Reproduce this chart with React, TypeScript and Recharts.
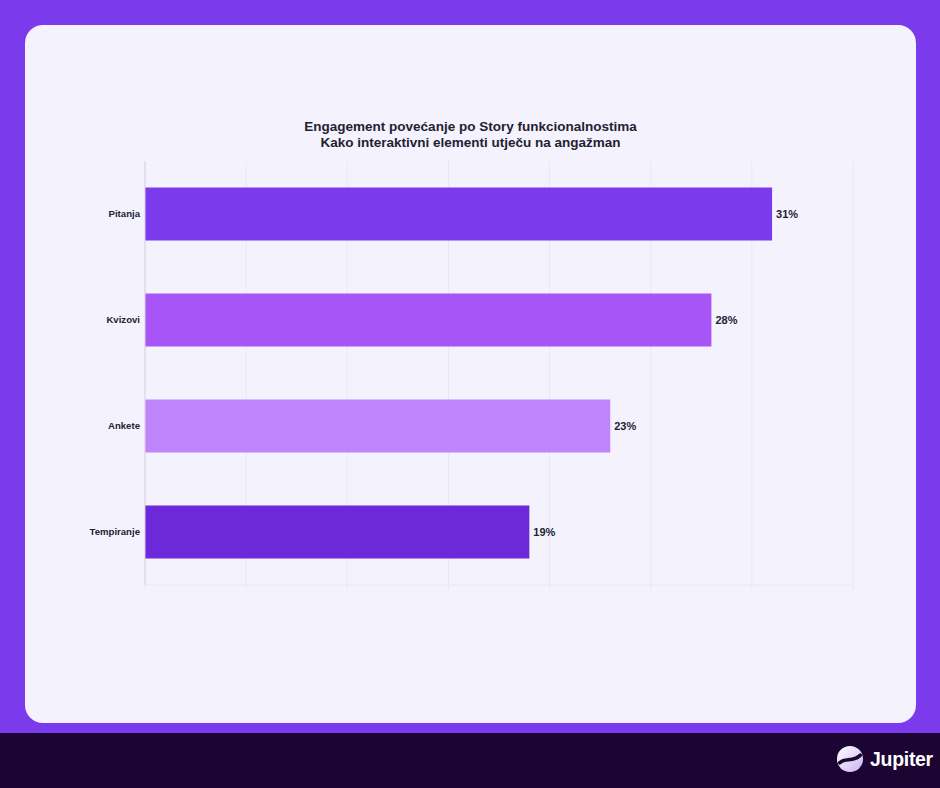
import React from 'react';
import { BarChart, Bar, XAxis, YAxis, CartesianGrid, Cell, LabelList } from 'recharts';

const features = ['Pitanja', 'Kvizovi', 'Ankete', 'Tempiranje'];
const increase = [31, 28, 23, 19];
const barColors = ['#7c3aed', '#a855f7', '#c084fc', '#6d28d9'];
const xTicks = [0, 5, 10, 15, 20, 25, 30, 35];

const data = features.map((name, i) => ({ name, value: increase[i] }));

const font = '"Liberation Sans", Arial, Helvetica, sans-serif';

function JupiterLogo() {
  return (
    <div style={{ position: 'absolute', left: 836, top: 745, display: 'flex', alignItems: 'center' }}>
      <svg width={28} height={28} viewBox="0 0 30 30">
        <defs>
          <linearGradient id="jupGrad" x1="0" y1="0" x2="1" y2="1">
            <stop offset="0%" stopColor="#ffffff" />
            <stop offset="100%" stopColor="#c9b3f5" />
          </linearGradient>
        </defs>
        <circle cx={15} cy={15} r={14} fill="url(#jupGrad)" />
        <path d="M4 19 C10 13, 18 19, 26 11" stroke="#1c0533" strokeWidth={4} fill="none" strokeLinecap="round" />
      </svg>
      <span style={{ marginLeft: 6, color: '#ffffff', fontFamily: font, fontWeight: 700, fontSize: 19.5, letterSpacing: -0.3 }}>
        Jupiter
      </span>
    </div>
  );
}

export default function App() {
  return (
    <div style={{ position: 'absolute', left: 0, top: 0, width: 940, height: 788, background: '#7c3aed', overflow: 'hidden', fontFamily: font }}>
      <div style={{ position: 'absolute', left: 0, top: 733, width: 940, height: 55, background: '#1c0533' }} />
      <JupiterLogo />
      <div style={{ position: 'absolute', left: 25, top: 25, width: 891, height: 698, background: '#f4f3fd', borderRadius: 18 }}>
        <div style={{ position: 'absolute', left: 0, top: 94, width: 891, textAlign: 'center', fontWeight: 700, fontSize: 13.5, lineHeight: '16px', color: '#1f2233' }}>
          <div>Engagement povećanje po Story funkcionalnostima</div>
          <div>Kako interaktivni elementi utječu na angažman</div>
        </div>
        <div style={{ position: 'absolute', left: 0, top: 0 }}>
          <BarChart
            width={891}
            height={698}
            data={data}
            layout="vertical"
            margin={{ top: 136, right: 63, left: 0, bottom: 108 }}
            barCategoryGap="25%"
          >
            <CartesianGrid horizontal={false} stroke="#e9e7f3" />
            <XAxis
              type="number"
              domain={[0, 35]}
              ticks={xTicks}
              height={30}
              axisLine={{ stroke: '#e9e7f3' }}
              tickLine={{ stroke: '#e9e7f3' }}
              tickSize={5}
              tickFormatter={() => ''}
            />
            <YAxis
              type="category"
              dataKey="name"
              width={120}
              axisLine={{ stroke: '#d6d4e2' }}
              tickLine={false}
              tickSize={0}
              tickMargin={5}
              tick={{ fill: '#1f2233', fontSize: 9.6, fontWeight: 700, fontFamily: font }}
            />
            <Bar dataKey="value" isAnimationActive={false}>
              {data.map((d, i) => (
                <Cell key={d.name} fill={barColors[i]} />
              ))}
              <LabelList
                dataKey="value"
                position="right"
                offset={4}
                formatter={(v: number) => `${v}%`}
                style={{ fill: '#1f2233', fontSize: 11, fontWeight: 700, fontFamily: font }}
              />
            </Bar>
          </BarChart>
        </div>
      </div>
    </div>
  );
}
